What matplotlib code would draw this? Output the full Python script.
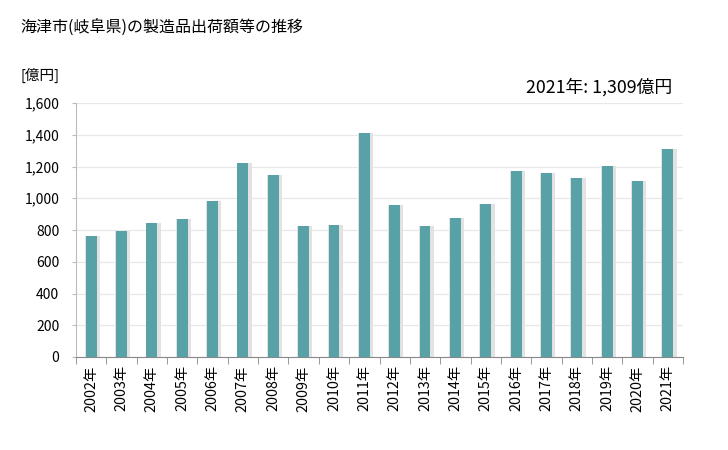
import matplotlib
matplotlib.use("Agg")
import matplotlib.pyplot as plt
import numpy as np

plt.rcParams['font.family'] = ['Noto Sans CJK JP', 'DejaVu Sans']

years = [f"{y}年" for y in range(2002, 2022)]
values = [763, 793, 843, 868, 981, 1220, 1144, 824, 830, 1408,
          956, 824, 874, 962, 1169, 1157, 1125, 1201, 1107, 1309]
yticks = [0, 200, 400, 600, 800, 1000, 1200, 1400, 1600]

title = "海津市(岐阜県)の製造品出荷額等の推移"
unit = "[億円]"
note = "2021年: 1,309億円"

fig = plt.figure(figsize=(7.28, 4.5), dpi=100)
ax = fig.add_axes([76/728, 1 - 357/450, (683-76)/728, (357-103)/450])

x = np.arange(len(values))
# shadow
ax.bar(x + 0.04, values, width=0.50, color='#e2e2e2', zorder=2)
ax.bar(x, values, width=0.36, color='#58a1a7', zorder=3)

ax.set_xlim(-0.5, len(values) - 0.5)
ax.set_ylim(0, 1600)
ax.set_yticks(yticks)
ax.set_yticklabels([f"{v:,}" for v in yticks], fontsize=10)
ax.yaxis.grid(True, color='#e8e8e8', linewidth=0.9, zorder=0)
ax.set_axisbelow(True)

ax.set_xticks(x)
ax.set_xticklabels(years, rotation=90, fontsize=10.3)
ax.tick_params(axis='x', which='major', length=0, pad=6)
ax.set_xticks(np.arange(-0.5, len(values), 1), minor=True)
ax.tick_params(axis='x', which='minor', length=5, color='#888888')
ax.tick_params(axis='y', length=3, color='#bbbbbb', pad=9)

for s in ['top', 'right']:
    ax.spines[s].set_visible(False)
ax.spines['left'].set_color('#bbbbbb')
ax.spines['bottom'].set_color('#888888')

fig.text(20/728, 1 - 28/450, title, fontsize=11.5, va='center', ha='left')
fig.text(20/728, 1 - 75/450, unit, fontsize=10.5, va='center', ha='left')
fig.text(672/728, 1 - 87/450, note, fontsize=12.8, va='center', ha='right')

fig.savefig("out.png", dpi=100)
